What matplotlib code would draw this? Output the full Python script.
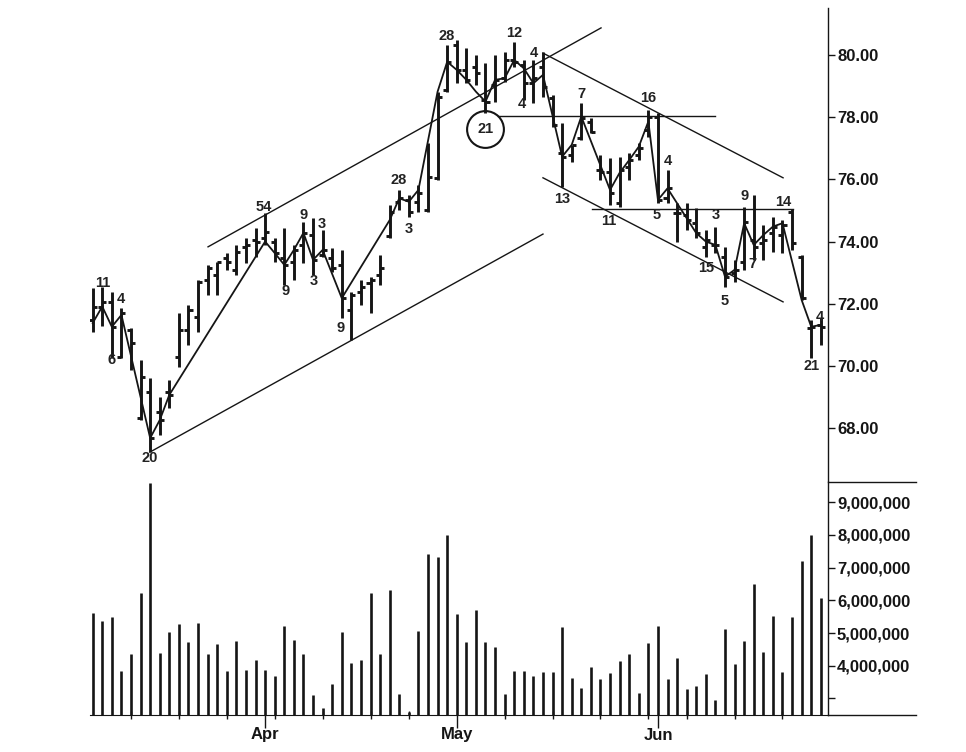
import numpy as np
import pandas as pd
import matplotlib
matplotlib.use('Agg')
import matplotlib.pyplot as plt
from matplotlib.lines import Line2D
from matplotlib.ticker import FixedLocator, NullFormatter

plt.rcParams['font.family'] = ['Liberation Sans', 'DejaVu Sans']

# trading days, 8 Mar - 24 Jun (Good Friday and Memorial Day closed)
dates = pd.bdate_range('2011-03-08', '2011-06-24')
dates = dates[~dates.isin(pd.to_datetime(['2011-04-22', '2011-05-30']))]

opens = [71.48, 71.90, 72.06, 70.29, 71.16, 68.33, 69.16, 68.52, 69.16, 70.29,
         71.16, 71.58, 72.77, 72.93, 73.47, 73.09, 73.83, 74.05, 74.12, 73.99,
         73.47, 73.34, 73.89, 74.21, 73.57, 73.47, 73.25, 71.80, 72.38, 72.67,
         72.93, 74.18, 75.27, 75.34, 75.27, 75.02, 76.05, 78.87, 80.32, 79.52,
         79.61, 78.55, 79.04, 79.26, 79.84, 79.68, 79.10, 79.61, 78.62, 76.85,
         76.78, 77.33, 77.85, 76.30, 76.24, 75.24, 76.40, 76.78, 77.59, 78.01,
         75.40, 74.92, 74.86, 74.60, 73.83, 73.89, 73.50, 72.99, 73.34, 74.05,
         73.96, 74.28, 74.21, 74.95, 73.50, 71.22, 71.32]
highs = [72.51, 72.54, 72.38, 71.86, 71.22, 70.19, 69.61, 69.00, 69.55, 71.70,
         71.96, 72.77, 73.25, 73.34, 73.63, 73.89, 74.12, 74.44, 74.92, 74.12,
         74.44, 73.89, 74.63, 74.76, 74.37, 73.79, 73.73, 72.38, 72.77, 72.86,
         73.57, 75.18, 75.66, 75.50, 75.82, 77.17, 78.81, 80.32, 80.48, 80.23,
         80.00, 79.74, 80.00, 80.10, 80.42, 79.84, 79.84, 80.10, 78.71, 77.81,
         77.11, 78.46, 77.97, 76.78, 76.69, 76.72, 76.85, 77.17, 78.23, 78.14,
         76.30, 75.24, 75.24, 75.08, 74.37, 74.47, 73.83, 73.41, 75.11, 75.50,
         74.53, 74.79, 74.69, 75.05, 73.57, 71.48, 71.54]
lows = [71.09, 71.29, 70.26, 70.26, 69.87, 68.26, 67.23, 67.78, 68.65, 69.97,
        70.68, 71.09, 72.28, 72.28, 73.09, 72.93, 73.31, 73.50, 73.89, 73.34,
        72.60, 72.77, 73.31, 72.93, 73.50, 73.02, 71.54, 70.84, 71.96, 71.70,
        72.60, 74.12, 75.02, 74.79, 74.95, 74.95, 75.98, 78.81, 79.10, 79.10,
        79.04, 78.14, 78.49, 79.13, 79.61, 78.55, 78.46, 78.65, 77.68, 75.76,
        76.56, 77.27, 77.49, 75.98, 75.18, 75.11, 75.98, 76.62, 77.36, 75.24,
        75.24, 73.99, 74.37, 74.12, 73.50, 73.63, 72.54, 72.70, 73.09, 73.41,
        73.41, 73.67, 73.63, 73.73, 72.12, 70.26, 70.68]
closes = [71.90, 72.06, 71.25, 71.70, 70.74, 69.65, 67.68, 68.26, 69.07, 71.16,
          71.80, 72.70, 73.15, 73.34, 73.34, 73.67, 73.89, 74.00, 74.31, 73.63,
          73.25, 73.73, 74.28, 73.41, 73.73, 73.15, 72.19, 72.28, 72.54, 72.77,
          73.15, 74.95, 75.40, 74.95, 75.56, 76.08, 78.65, 79.77, 79.52, 79.20,
          79.42, 78.49, 79.20, 79.84, 79.77, 79.10, 79.26, 78.97, 77.75, 76.72,
          77.11, 77.97, 77.52, 76.24, 75.56, 76.30, 76.62, 77.01, 78.01, 75.34,
          75.72, 74.92, 74.69, 74.28, 74.05, 73.89, 72.86, 73.09, 74.63, 73.83,
          74.05, 74.47, 74.53, 73.96, 72.19, 71.25, 71.25]
volume_m = [5.62, 5.38, 5.49, 3.85, 4.36, 6.23, 9.58, 4.40, 5.04, 5.27,
            4.72, 5.30, 4.36, 4.68, 3.84, 4.75, 3.87, 4.17, 3.87, 3.69,
            5.23, 4.79, 4.36, 3.10, 2.70, 3.43, 5.04, 4.09, 4.17, 6.23,
            4.35, 6.32, 3.14, 2.59, 5.07, 7.42, 7.32, 8.00, 5.58, 4.72,
            5.71, 4.72, 4.57, 3.14, 3.84, 3.84, 3.69, 3.81, 3.81, 5.20,
            3.62, 3.33, 3.97, 3.59, 3.77, 4.14, 4.36, 3.18, 4.69, 5.23,
            3.59, 4.23, 3.29, 3.39, 3.76, 2.95, 5.12, 4.06, 4.75, 6.50,
            4.43, 5.52, 3.80, 5.49, 7.20, 8.00, 6.07]

# swing line (bar, price)
swing_bar = [0, 1, 2, 3, 6, 7, 8, 18, 19, 20, 21, 22, 23, 24, 26, 31, 32, 33, 34,
             36, 37, 38, 39, 40, 41, 42, 43, 44, 45, 46, 47, 49, 50, 51, 54, 55,
             56, 57, 58, 59, 60, 62, 63, 64, 65, 66, 67, 68, 69, 70, 71, 72, 74,
             75, 76]
swing_price = [71.38, 71.91, 71.26, 71.64, 67.68, 68.26, 69.07, 74.00, 73.63,
               73.25, 73.73, 74.28, 73.41, 73.73, 72.18, 74.69, 75.39, 75.28,
               75.66, 78.82, 79.78, 79.52, 79.20, 78.82, 78.50, 79.20, 79.25,
               79.84, 79.57, 79.09, 79.36, 76.73, 77.11, 78.02, 75.66, 76.21,
               76.62, 77.05, 77.86, 75.34, 75.71, 74.75, 74.27, 74.00, 73.89,
               72.87, 73.09, 74.59, 73.89, 74.21, 74.48, 74.59, 72.12, 71.26,
               71.32]

# trend lines ((bar, price), (bar, price))
trend_lines = [((12.04, 73.83), (53.06, 80.87)),
               ((5.98, 67.23), (47.0, 74.24)),
               ((47.0, 80.06), (72.06, 76.05)),
               ((47.0, 76.05), (72.06, 72.06)),
               ((42.3, 78.05), (64.96, 78.05)),
               ((52.1, 75.05), (73.1, 75.05))]

labels = ['11', '4', '6', '20', '54', '9', '9', '3', '3', '9', '28', '3', '28',
          '12', '4', '4', '7', '16', '13', '11', '5', '4', '3', '15', '5', '9',
          '7', '14', '21', '4']
label_bar = [1.08, 2.95, 2.01, 5.98, 17.9, 20.1, 21.96, 23.9, 23.1, 25.9, 31.97,
             33.0, 36.9, 43.96, 46.05, 44.8, 50.98, 57.97, 48.99, 53.9, 58.9,
             60.05, 65.06, 64.0, 66.0, 67.99, 68.9, 72.06, 75.0, 75.9]
label_price = [72.67, 72.15, 70.19, 67.04, 75.11, 72.41, 74.86, 74.57, 72.73,
               71.22, 75.98, 74.41, 80.61, 80.71, 80.06, 78.42, 78.75, 78.62,
               75.37, 74.66, 74.86, 76.59, 74.86, 73.15, 72.09, 75.47, 73.28,
               75.27, 70.0, 71.58]
circle_bar = 41.0
circle_price = 77.61

ink = '#151515'
W, H = 966, 752
fig = plt.figure(figsize=(W / 100, H / 100), dpi=100)
ax1 = fig.add_axes([90 / W, 1 - 481 / H, 738 / W, 473 / H])
ax2 = fig.add_axes([90 / W, 1 - 715 / H, 738 / W, 233 / H])

x = np.arange(len(dates))
for ax in (ax1, ax2):
    ax.set_xlim(-0.28, 76.75)
    for s in ('top', 'left'):
        ax.spines[s].set_visible(False)
    ax.spines['right'].set_color(ink)
    ax.spines['right'].set_linewidth(1.0)
    ax.yaxis.tick_right()
    ax.tick_params(axis='y', direction='out', length=5, width=1, pad=1.5,
                   colors=ink, labelsize=12)
ax1.spines['bottom'].set_visible(False)
ax1.set_xticks([])

# price bars
ax1.vlines(x, lows, highs, color=ink, lw=2.1)
ax1.hlines(opens, x - 0.42, x, color=ink, lw=2.1)
ax1.hlines(closes, x, x + 0.42, color=ink, lw=2.1)
ax1.plot(swing_bar, swing_price, color=ink, lw=1.3)
for (x0, y0), (x1, y1) in trend_lines:
    ax1.plot([x0, x1], [y0, y1], color=ink, lw=1.0)
for t, bx, py in zip(labels, label_bar, label_price):
    ax1.text(bx, py, t, ha='center', va='center', fontsize=10.5,
             fontweight='bold', color='#222222')
ax1.plot(circle_bar, circle_price, marker='o', ms=26.5, mfc='none',
         mec=ink, mew=1.5)
ax1.text(circle_bar, circle_price, '21', ha='center', va='center',
         fontsize=10.5, fontweight='bold', color='#222222')
ax1.set_ylim(66.30, 81.51)
ax1.set_yticks(np.arange(68, 81, 2))
ax1.set_yticklabels(['%.2f' % v for v in np.arange(68, 81, 2)],
                    fontweight='bold')

# volume
vol = np.array(volume_m) * 1e6
ax2.vlines(x, 0, vol, color=ink, lw=1.9)
ax2.set_ylim(2.495e6, 9.62e6)
vt = np.arange(3, 10) * 1e6
ax2.set_yticks(vt)
ax2.set_yticklabels([''] + ['{:,}'.format(int(v)) for v in vt[1:]],
                    fontweight='bold')
ax2.spines['bottom'].set_color(ink)

month_pos = [i for i in range(1, len(dates)) if dates[i].month != dates[i - 1].month]
week_pos = [i for i in range(1, len(dates)) if dates[i].weekday() < dates[i - 1].weekday()]
ax2.set_xticks(month_pos)
ax2.set_xticklabels([dates[i].strftime('%b') for i in month_pos],
                    fontweight='bold')
ax2.xaxis.set_minor_locator(FixedLocator(week_pos))
ax2.xaxis.set_minor_formatter(NullFormatter())
ax2.tick_params(axis='x', which='major', direction='out', length=9, width=1,
                pad=0, colors=ink, labelsize=12)
ax2.tick_params(axis='x', which='minor', direction='inout', length=6,
                width=1, colors=ink)

# separator lines out to the right edge of the scale area
fig.add_artist(Line2D([828 / W, 916 / W], [1 - 481.5 / H, 1 - 481.5 / H],
                      color=ink, lw=1.0, transform=fig.transFigure))
fig.add_artist(Line2D([828 / W, 916 / W], [1 - 715 / H, 1 - 715 / H],
                      color=ink, lw=1.0, transform=fig.transFigure))

fig.savefig('out.png', dpi=100)
